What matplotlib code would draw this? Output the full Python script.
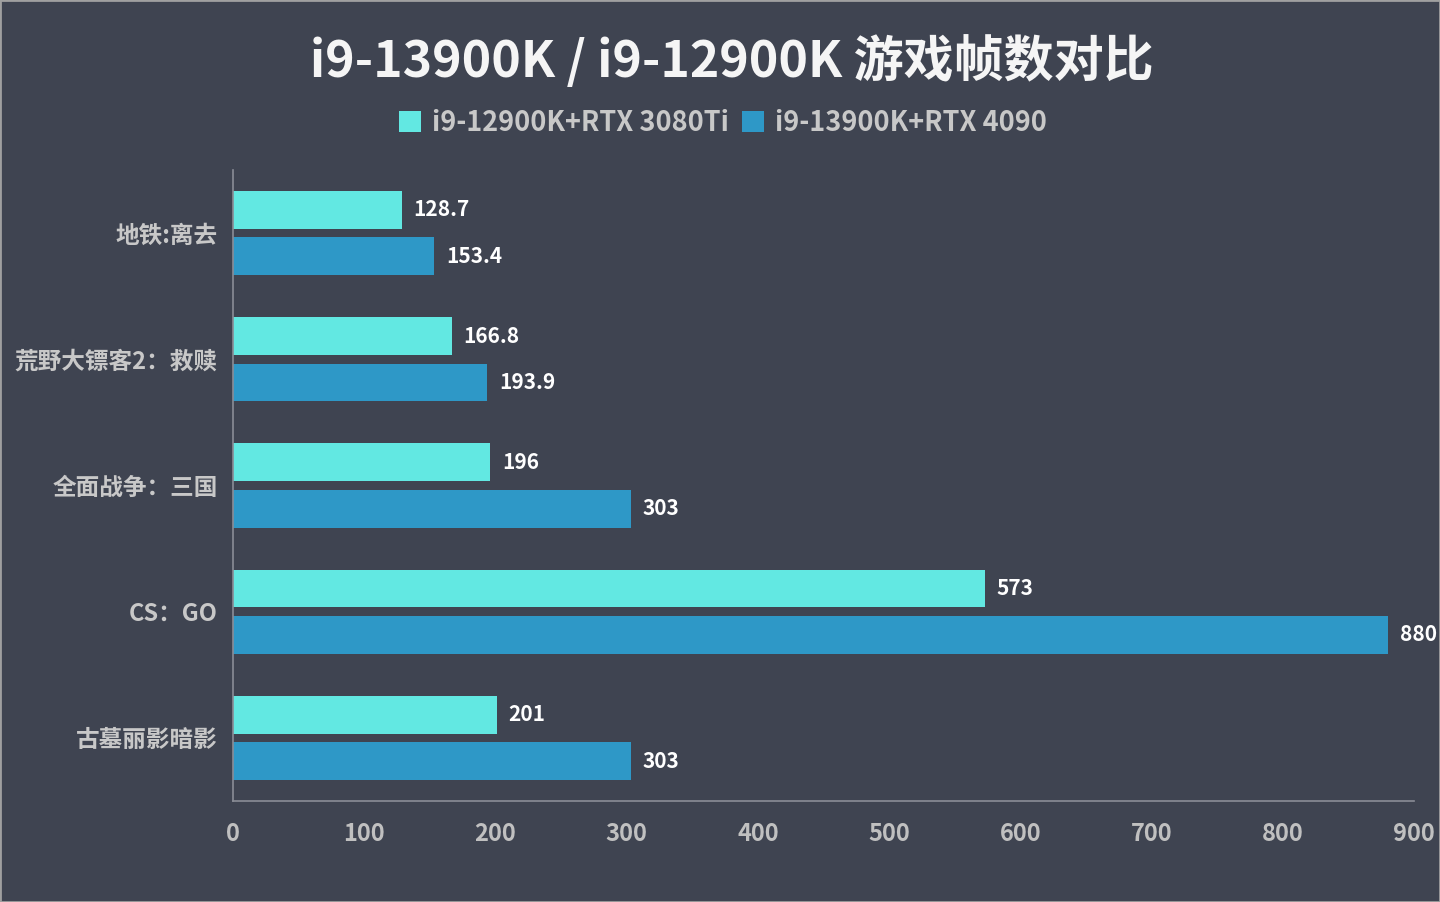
import numpy as np
import matplotlib.pyplot as plt

plt.rcParams['font.family'] = ['Noto Sans CJK SC', 'DejaVu Sans']

# Daten
spiele = ['地铁:离去', '荒野大镖客2：救赎', '全面战争：三国', 'CS：GO', '古墓丽影暗影']
werte_12900 = [128.7, 166.8, 196, 573, 201]
werte_13900 = [153.4, 193.9, 303, 880, 303]
labels_12900 = ['128.7', '166.8', '196', '573', '201']
labels_13900 = ['153.4', '193.9', '303', '880', '303']
serien = ['i9-12900K+RTX 3080Ti', 'i9-13900K+RTX 4090']
xticks = [0, 100, 200, 300, 400, 500, 600, 700, 800, 900]

bg = '#3f4451'
c1 = '#62e8e2'
c2 = '#2e98c7'

fig = plt.figure(figsize=(14.4, 9.02), dpi=100, facecolor=bg)
ax = fig.add_axes([233/1440, 1 - 801/902, (1414 - 233)/1440, (801 - 170)/902])
ax.set_facecolor(bg)

y = np.arange(len(spiele))
h = 0.30
off = 0.184
b1 = ax.barh(y - off, werte_12900, height=h, color=c1, label=serien[0])
b2 = ax.barh(y + off, werte_13900, height=h, color=c2, label=serien[1])

for bar, txt in zip(b1, labels_12900):
    ax.text(bar.get_width() + 9, bar.get_y() + bar.get_height()/2, txt,
            va='center', ha='left', color='white', fontsize=15, fontweight='heavy')
for bar, txt in zip(b2, labels_13900):
    ax.text(bar.get_width() + 9, bar.get_y() + bar.get_height()/2, txt,
            va='center', ha='left', color='white', fontsize=15, fontweight='heavy')

ax.set_xlim(0, 900)
ax.set_ylim(len(spiele) - 0.5, -0.5)
ax.set_yticks(y)
ax.set_yticklabels(spiele, fontsize=17, fontweight='heavy', color='#c8c8c8')
ax.set_xticks(xticks)
ax.set_xticklabels([str(t) for t in xticks], fontsize=17, fontweight='heavy', color='#c0c0c0')
ax.tick_params(axis='both', length=0)
ax.tick_params(axis='y', pad=11)
ax.tick_params(axis='x', pad=15)

for s in ['top', 'right']:
    ax.spines[s].set_visible(False)
for s in ['left', 'bottom']:
    ax.spines[s].set_color('#8a8d96')
    ax.spines[s].set_linewidth(1.2)

fig.text(732/1440, 1 - 62/902, 'i9-13900K / i9-12900K 游戏帧数对比', ha='center', va='center',
         fontsize=36, fontweight='heavy', color='#f5f5f5')

leg = fig.legend(loc='center', bbox_to_anchor=(723/1440, 1 - 123/902), ncol=2, frameon=False,
                 handlelength=0.8, handleheight=0.8, handletextpad=0.4,
                 columnspacing=0.5, prop={'weight': 'heavy', 'size': 19.5})
for t in leg.get_texts():
    t.set_color('#c8c8c8')

# Rahmen
fig.patches.append(plt.Rectangle((0, 0), 1, 1, transform=fig.transFigure, fill=False,
                                 edgecolor='#a0a0a0', linewidth=2))

plt.savefig('out.png', dpi=100, facecolor=bg)
